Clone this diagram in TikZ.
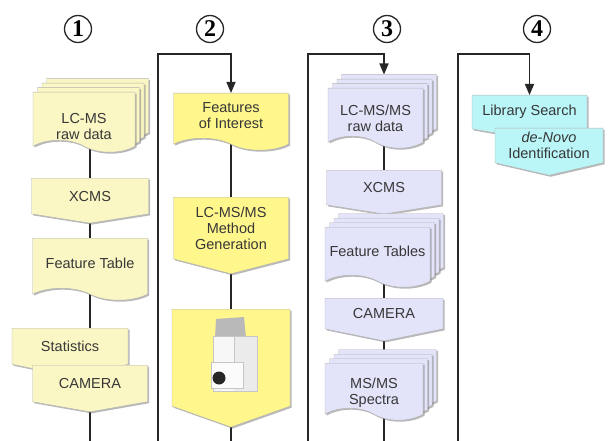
\documentclass[tikz,border=0pt]{standalone}
\usepackage{fontspec}
\setmainfont{Liberation Sans}
\newfontfamily\stepfont{Liberation Serif}
\usetikzlibrary{shapes.symbols,shadows,arrows.meta,backgrounds}

% fill colours of the four stages
\definecolor{stageone}{RGB}{250,247,196}
\definecolor{stagetwo}{RGB}{255,246,140}
\definecolor{stagethree}{RGB}{227,228,250}
\definecolor{stagefour}{RGB}{186,245,248}
\definecolor{labelgray}{RGB}{55,55,55}

% text of a sheet stack sits a bit lower than the sheet's middle
\newcommand\sheettext[2]{\raisebox{-#1}[\height][\depth]{\begin{tabular}{@{}c@{}}#2\end{tabular}}}

\tikzset{
  box/.style={font=\fontsize{14.5}{16}\selectfont, text=labelgray, align=center,
    inner sep=0pt, draw=black!30, line width=.4pt,
    drop shadow={shadow xshift=1.5pt,shadow yshift=-1.5pt,opacity=.5,fill=black!55}},
  docbox/.style={box, fill=#1, tape, tape bend top=none, tape bend bottom=out and in,
    tape bend height=12pt},
  offbox/.style={box, fill=#1, signal, signal to=south},
  % three sheets behind the front one, each with its own shadow
  pagestack/.style={
    general shadow={shadow xshift=15pt,shadow yshift=12pt,opacity=.5,fill=black!55},
    general shadow={shadow xshift=13.5pt,shadow yshift=13.5pt,fill=#1,draw=black!30,line width=.4pt},
    general shadow={shadow xshift=10.5pt,shadow yshift=7.5pt,opacity=.5,fill=black!55},
    general shadow={shadow xshift=9pt,shadow yshift=9pt,fill=#1,draw=black!30,line width=.4pt},
    general shadow={shadow xshift=6pt,shadow yshift=3pt,opacity=.5,fill=black!55},
    general shadow={shadow xshift=4.5pt,shadow yshift=4.5pt,fill=#1,draw=black!30,line width=.4pt},
    docbox=#1},
  link/.style={draw=black!85, line width=1.5pt},
  feed/.style={link, -{Triangle[length=11pt,width=9pt]}},
  stepnum/.style={circle, draw=black!85, line width=1.3pt, minimum size=27pt, inner sep=0pt,
    font=\stepfont\bfseries\fontsize{24}{24}\selectfont}
}

\begin{document}
\begin{tikzpicture}[x=1pt,y=-1pt]
\useasboundingbox (0,0) rectangle (613,441);

% stage numbers
\node[stepnum] (n1) at (78,29) {1};
\node[stepnum] (n2) at (210,29) {2};
\node[stepnum] (n3) at (387,29) {3};
\node[stepnum] (n4) at (537,29) {4};

% stage 1
\node[pagestack=stageone, minimum width=102pt, minimum height=60pt, anchor=north] (raw1) at (84,92) {\sheettext{12pt}{LC-MS\\raw data}};
\node[offbox=stageone, minimum width=117pt, minimum height=39pt, signal pointer angle=162, anchor=north] (xcms1) at (90,178) {XCMS};
\node[docbox=stageone, minimum width=115pt, minimum height=62pt, anchor=north] (table1) at (90,238) {Feature Table};
\node[offbox=stageone, minimum width=116pt, minimum height=42pt, signal pointer angle=157, anchor=north] (stat1) at (70,328) {Statistics};
\node[offbox=stageone, minimum width=115pt, minimum height=42pt, signal pointer angle=160, anchor=north] (cam1) at (90,365) {CAMERA};
\coordinate (end1) at (90,441);

% stage 2
\node[docbox=stagetwo, minimum width=115pt, minimum height=57pt, anchor=north] (feat) at (231,93) {Features\\of Interest};
\node[offbox=stagetwo, minimum width=115pt, minimum height=71pt, signal pointer angle=151, anchor=north] (mgen) at (231,197) {LC-MS/MS\\Method\\Generation};
\node[offbox=stagetwo, minimum width=118pt, minimum height=97pt, signal pointer angle=141, anchor=north] (instr) at (231,309) {};
\coordinate (start2) at (158,441);
\coordinate (turn2) at (158,54);
\coordinate (end2) at (231,441);

% mass spectrometer
\fill[gray!55] (216,319) -- (244,317) -- (246,338) -- (215,338) -- cycle;
\filldraw[fill=gray!6, draw=gray!45] (213,336) rectangle (257,391);
\fill[gray!16] (234,336.5) rectangle (256.5,390.5);
\draw[gray!45] (234,336) -- (234,362);
\filldraw[fill=gray!3, draw=gray!45] (211,362) rectangle (243,388);
\fill[black!85] (219,378) circle[radius=6.5pt];

% stage 3
\node[pagestack=stagethree, minimum width=95pt, minimum height=60pt, anchor=north] (raw2) at (375.5,88) {\sheettext{8pt}{LC-MS/MS\\raw data}};
\node[offbox=stagethree, minimum width=115pt, minimum height=38pt, signal pointer angle=162, anchor=north] (xcms2) at (384,170) {XCMS};
\node[pagestack=stagethree, minimum width=105pt, minimum height=60pt, anchor=north] (tables) at (377.5,227) {Feature Tables};
\node[offbox=stagethree, minimum width=118pt, minimum height=37pt, signal pointer angle=157, anchor=north] (cam2) at (384,298) {CAMERA};
\node[pagestack=stagethree, minimum width=98pt, minimum height=57pt, anchor=north] (msms) at (374,363) {\sheettext{8pt}{MS/MS\\Spectra}};
\coordinate (start3) at (308,441);
\coordinate (turn3) at (308,54);
\coordinate (top3) at ([yshift=13.5pt]raw2.north);
\coordinate (end3) at (384,441);

% stage 4
\node[offbox=stagefour, minimum width=115pt, minimum height=42pt, signal pointer angle=160, anchor=north] (lib) at (529.5,95) {Library Search};
\node[offbox=stagefour, minimum width=108pt, minimum height=44pt, signal pointer angle=154, anchor=north] (denovo) at (549,128) {\textit{de-Novo}\\Identification};
\coordinate (start4) at (458,441);
\coordinate (turn4) at (458,54);

% links behind the boxes
\begin{scope}[on background layer]
  \draw[link] (raw1.south -| xcms1.north) -- (xcms1.north);
  \draw[link] (xcms1.south) -- (table1.north);
  \draw[link] (table1.south) -- (stat1.north -| table1.south);
  \draw[link] (cam1.south) -- (end1);
  \draw[link] (feat.south) -- (mgen.north);
  \draw[link] (mgen.south) -- (instr.north);
  \draw[link] (instr.south) -- (end2);
  \draw[link] (raw2.south -| xcms2.north) -- (xcms2.north);
  \draw[link] (xcms2.south) -- (tables.north -| xcms2.south);
  \draw[link] (tables.south -| cam2.north) -- (cam2.north);
  \draw[link] (cam2.south) -- (msms.north -| cam2.south);
  \draw[link] (msms.south -| end3) -- (end3);
\end{scope}

% feedback into the next stage
\draw[feed] (start2) -- (turn2) -| (feat.north);
\draw[feed] (start3) -- (turn3) -| (top3 -| xcms2.north);
\draw[feed] (start4) -- (turn4) -| (lib.north);
\end{tikzpicture}
\end{document}
